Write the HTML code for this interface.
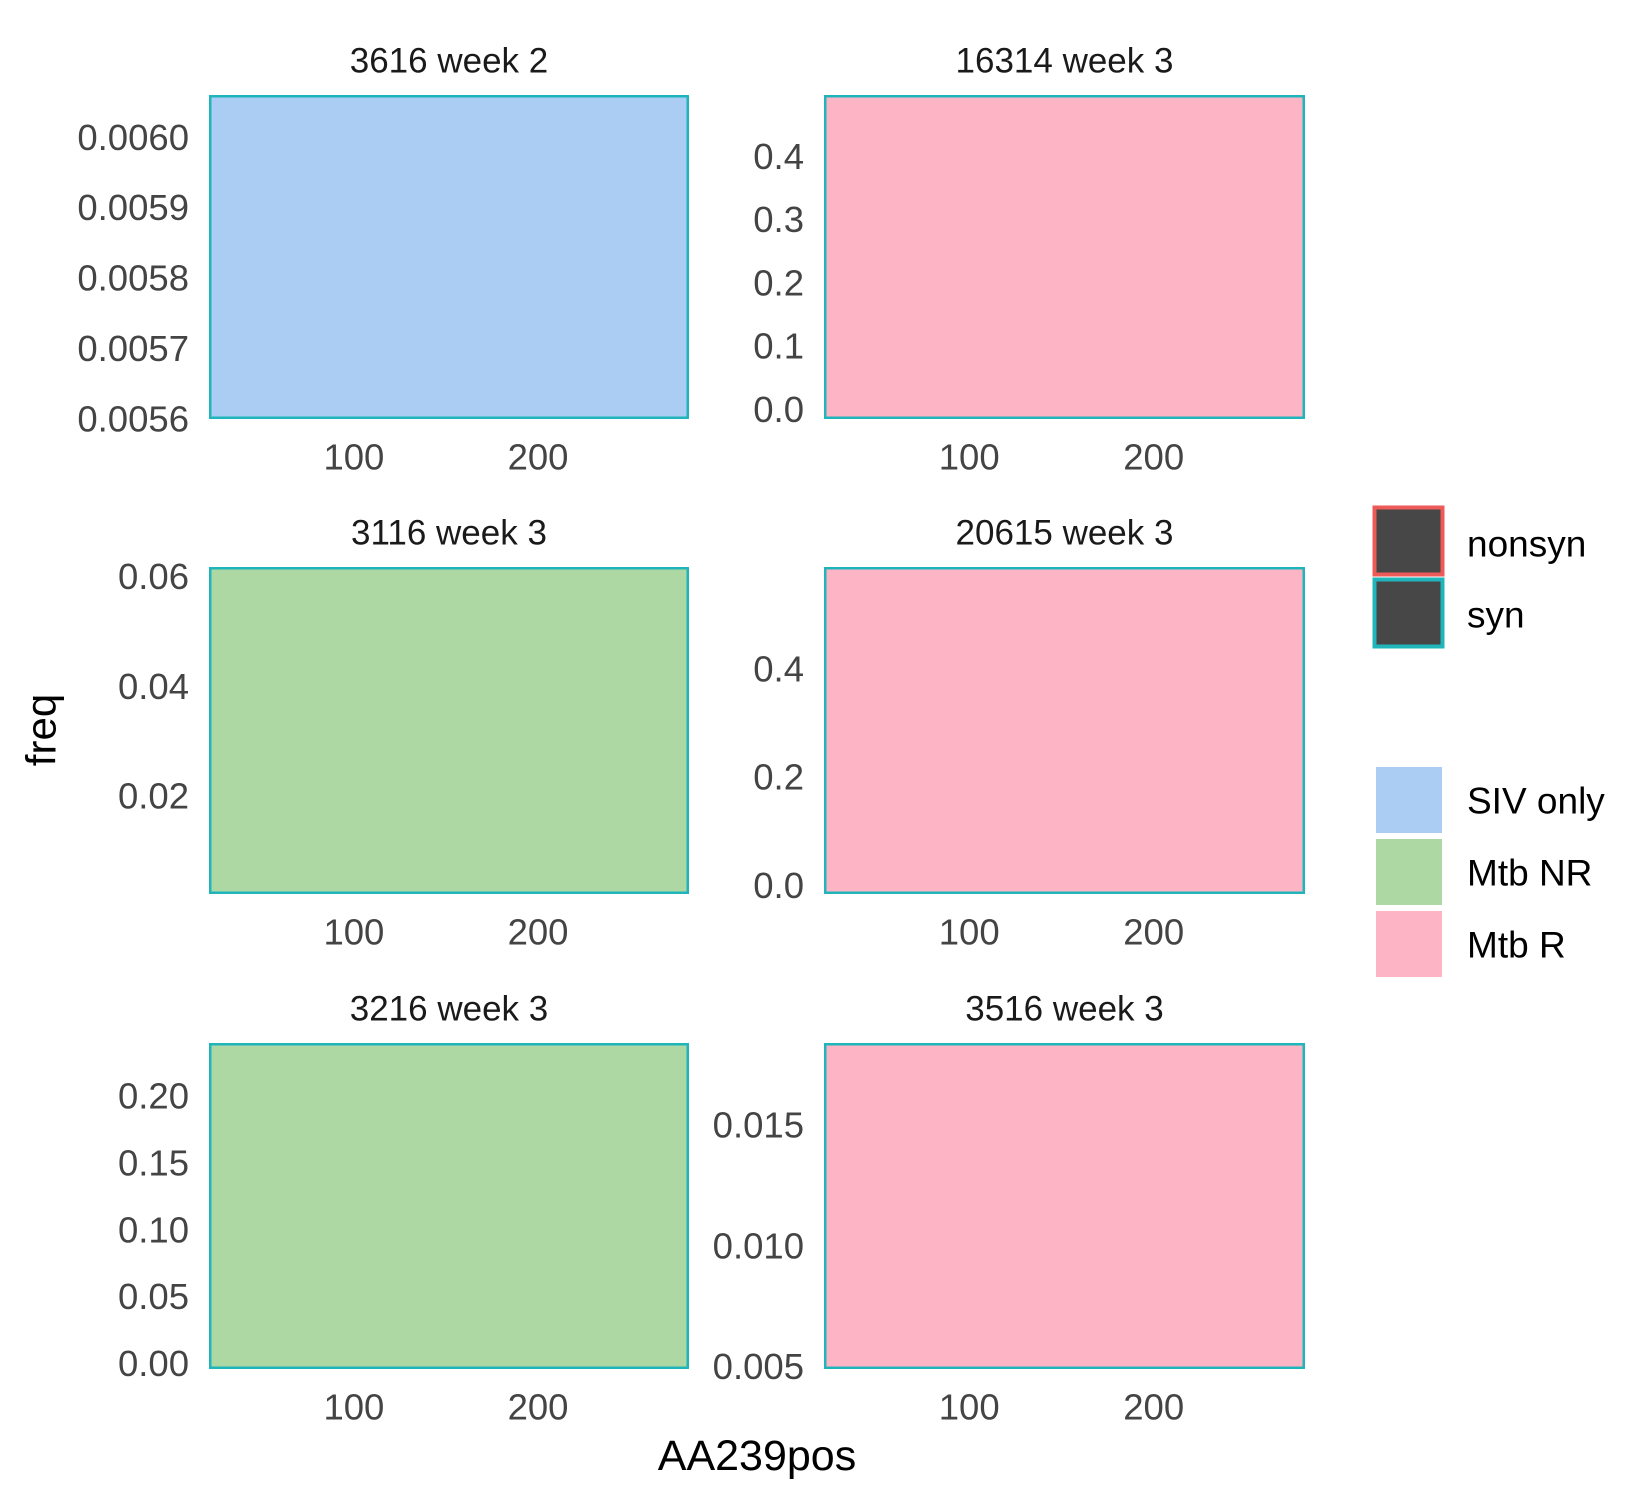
<!DOCTYPE html>
<html><head><meta charset="utf-8"><style>
html,body{margin:0;padding:0;background:#fff;}
svg{display:block;font-family:"Liberation Sans",Arial,sans-serif;}
</style></head><body>
<svg id="chart" width="1650" height="1500" viewBox="0 0 1650 1500" xmlns="http://www.w3.org/2000/svg">
<text x="41" y="730" transform="rotate(-90 41 730)" text-anchor="middle" dominant-baseline="central" font-size="42" fill="#000">freq</text>
<text x="757" y="1456" text-anchor="middle" dominant-baseline="central" font-size="43" fill="#000">AA239pos</text>
<g>
<rect x="1374.5" y="507.5" width="68" height="67" fill="#474747" stroke="#ee5a57" stroke-width="4"/>
<text x="1467" y="544" dominant-baseline="central" font-size="37" fill="#000">nonsyn</text>
<rect x="1374.5" y="579.5" width="68" height="67" fill="#474747" stroke="#1fb5bb" stroke-width="4"/>
<text x="1467" y="615" dominant-baseline="central" font-size="37" fill="#000">syn</text>
</g>
<g>
<rect x="1376" y="767" width="66" height="66" fill="#abcdf4"/>
<text x="1467" y="801" dominant-baseline="central" font-size="37" fill="#000">SIV only</text>
<rect x="1376" y="839" width="66" height="66" fill="#aed8a3"/>
<text x="1467" y="873" dominant-baseline="central" font-size="37" fill="#000">Mtb NR</text>
<rect x="1376" y="911" width="66" height="66" fill="#fdb5c5"/>
<text x="1467" y="945" dominant-baseline="central" font-size="37" fill="#000">Mtb R</text>
</g>
</svg>
<script>
// ---- data ----
const panelTitles = ["3616 week 2","16314 week 3","3116 week 3","20615 week 3","3216 week 3","3516 week 3"];
const panelGroups = ["SIV only","Mtb R","Mtb NR","Mtb R","Mtb NR","Mtb R"];
const yMin = [0.0056, -0.015, 0.0022, -0.0157, -0.004, 0.0049];
const yMax = [0.00606, 0.497, 0.0617, 0.588, 0.2395, 0.0184];
const yTicks = [
  [0.0056,0.0057,0.0058,0.0059,0.0060],
  [0.0,0.1,0.2,0.3,0.4],
  [0.02,0.04,0.06],
  [0.0,0.2,0.4],
  [0.00,0.05,0.10,0.15,0.20],
  [0.005,0.010,0.015]
];
const yTickDecimals = [4,1,2,1,2,3];
const xTicks = [100,200];
const xMin = 21.3, xMax = 282;
const barStart = [21.3,21.3,21.3,21.3,21.3,21.3];
const barEnd = [282,282,282,282,282,282];
const barValue = [0.00606, 0.497, 0.0617, 0.588, 0.2395, 0.0184];

// ---- layout ----
const groupColors = {"SIV only":"#abcdf4","Mtb NR":"#aed8a3","Mtb R":"#fdb5c5"};
const colX = [[209,689],[824,1305]];
const rowY = [[95,419],[567,894],[1043,1369]];
const svg = document.getElementById('chart');
const NS = "http://www.w3.org/2000/svg";
function mk(tag, attrs){const e=document.createElementNS(NS,tag);for(const k in attrs)e.setAttribute(k,attrs[k]);return e;}

panelTitles.forEach((title,i)=>{
  const c=i%2, r=Math.floor(i/2);
  const [x0,x1]=colX[c], [y0,y1]=rowY[r];
  const xs=v=>x0+(v-xMin)/(xMax-xMin)*(x1-x0);
  const ys=v=>y1-(v-yMin[i])/(yMax[i]-yMin[i])*(y1-y0);
  const g=mk('g',{});
  
  
  svg.appendChild(g);
  const clipId='clip'+i;
  const cp=mk('clipPath',{id:clipId});
  cp.appendChild(mk('rect',{x:x0,y:y0,width:x1-x0,height:y1-y0}));
  g.appendChild(cp);
  const top=ys(barValue[i]);
  const bar=mk('rect',{x:xs(barStart[i]),y:top,width:xs(barEnd[i])-xs(barStart[i]),height:Math.max(0,ys(yMin[i])-top),fill:groupColors[panelGroups[i]],stroke:'#1fb5bb','stroke-width':2.5,'clip-path':'url(#'+clipId+')'});
  
  
  g.appendChild(bar);
  const border=mk('rect',{x:xs(barStart[i])+1.25,y:top+1.25,width:xs(barEnd[i])-xs(barStart[i])-2.5,height:Math.max(0,ys(yMin[i])-top-2.5),fill:'none',stroke:'#1fb5bb','stroke-width':2.5});
  
  
  g.appendChild(border);
  const t=mk('text',{x:(x0+x1)/2,y:y0-34,'text-anchor':'middle','dominant-baseline':'central','font-size':35,fill:'#1a1a1a'});
  t.textContent=title;
  
  
  g.appendChild(t);
  yTicks[i].forEach(v=>{
    const lt=mk('text',{x:x0-20,y:ys(v),'text-anchor':'end','dominant-baseline':'central','font-size':36.5,fill:'#444'});
    lt.textContent=v.toFixed(yTickDecimals[i]);
    
    
    g.appendChild(lt);
  });
  xTicks.forEach(v=>{
    const lt=mk('text',{x:xs(v),y:y1+38,'text-anchor':'middle','dominant-baseline':'central','font-size':36.5,fill:'#444'});
    lt.textContent=String(v);
    
    
    g.appendChild(lt);
  });
});
</script>
</body></html>
